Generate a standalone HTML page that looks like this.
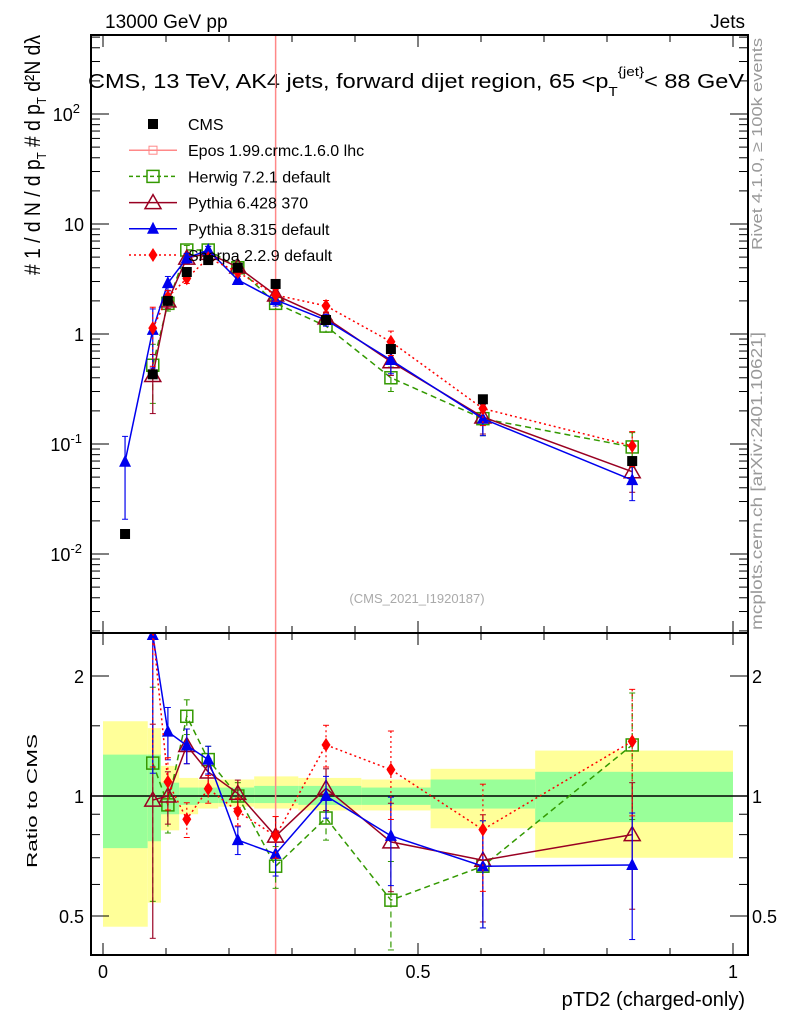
<!DOCTYPE html>
<html><head><meta charset="utf-8"><style>
body{margin:0;background:#fff}
svg{display:block;font-family:"Liberation Sans",sans-serif}
</style></head><body>
<svg id="c" width="786" height="1024" xmlns="http://www.w3.org/2000/svg">
<text x="105" y="28" font-size="19">13000 GeV pp</text>
<text x="745" y="28" font-size="19" text-anchor="end">Jets</text>
<text x="88" y="88" font-size="20" textLength="656" lengthAdjust="spacingAndGlyphs">CMS, 13 TeV, AK4 jets, forward dijet region, 65 &lt;p<tspan font-size="13" dy="8">T</tspan><tspan font-size="13" dy="-20">{jet}</tspan><tspan dy="12">&lt; 88 GeV</tspan></text>
<g transform="translate(40,155) rotate(-90)">
<text x="0" y="0" font-size="22" text-anchor="middle" textLength="240" lengthAdjust="spacingAndGlyphs"># 1 / d N / d p<tspan font-size="13" dy="6">T</tspan><tspan dy="-6"> # d p</tspan><tspan font-size="13" dy="6">T</tspan><tspan dy="-6"> d²N dλ</tspan></text>
</g>
<text transform="translate(762,250) rotate(-90)" font-size="15" fill="#999" textLength="212" lengthAdjust="spacingAndGlyphs">Rivet 4.1.0, ≥ 100k events</text>
<text transform="translate(762,630) rotate(-90)" font-size="16" fill="#999" textLength="298" lengthAdjust="spacingAndGlyphs">mcplots.cern.ch [arXiv:2401.10621]</text>
<text x="417" y="603" font-size="13" fill="#aaa" text-anchor="middle">(CMS_2021_I1920187)</text>
<text transform="translate(37,868) rotate(-90)" font-size="15" textLength="134" lengthAdjust="spacingAndGlyphs">Ratio to CMS</text>
<text x="745" y="1006" font-size="20" text-anchor="end">pTD2 (charged-only)</text>
<g id="g"></g>
</svg>
<script>
const xs=[0.035,0.079,0.103,0.133,0.167,0.214,0.274,0.354,0.457,0.603,0.84];
const edges=[0,0.071,0.092,0.121,0.151,0.183,0.24,0.31,0.41,0.52,0.686,1.0];
const cms=[0.0152,0.43,2.0,3.66,4.7,4.0,2.85,1.34,0.73,0.255,0.07];
const yellowHi=[1.54,1.48,1.19,1.11,1.1,1.1,1.12,1.11,1.1,1.17,1.3];
const yellowLo=[0.47,0.54,0.82,0.9,0.93,0.94,0.93,0.92,0.92,0.83,0.7];
const greenHi=[1.27,1.27,1.08,1.05,1.05,1.05,1.06,1.06,1.05,1.1,1.15];
const greenLo=[0.74,0.77,0.9,0.95,0.96,0.96,0.96,0.95,0.95,0.93,0.86];
const herwig=[null,0.52,1.9,5.8,5.8,4.0,1.9,1.18,0.40,0.17,0.094];
const pythia6=[null,0.42,2.0,4.9,5.4,4.06,2.26,1.4,0.56,0.176,0.056];
const pythia8=[0.069,1.09,2.9,4.9,5.8,3.1,2.04,1.34,0.58,0.17,0.047];
const sherpa=[null,1.13,2.17,3.2,4.9,3.66,2.26,1.8,0.85,0.21,0.096];
const relErr=[0.7,0.55,0.15,0.1,0.08,0.08,0.12,0.12,0.25,0.3,0.35];
const X0=91,X1=748,T=35,MB=633,RB=955;
const X=v=>103+v*630;
const Y=v=>334-110*Math.log10(v);
const R=v=>796-120*Math.log2(v);
const g=document.getElementById('g');
const NS='http://www.w3.org/2000/svg';
function mk(t,a,p){const e=document.createElementNS(NS,t);for(const k in a)e.setAttribute(k,a[k]);(p||g).appendChild(e);return e;}
const defs=mk('defs',{});
const c1=mk('clipPath',{id:'cm'},defs);mk('rect',{x:X0,y:T,width:X1-X0,height:MB-T},c1);
const c2=mk('clipPath',{id:'cr'},defs);mk('rect',{x:X0,y:MB,width:X1-X0,height:RB-MB},c2);
const gm=mk('g',{'clip-path':'url(#cm)'});


const gr=mk('g',{'clip-path':'url(#cr)'});


for(let i=0;i<xs.length;i++){
 const x=X(edges[i]),w=X(edges[i+1])-X(edges[i]);
 const yb=mk('rect',{x:x,y:R(yellowHi[i]),width:w,height:R(yellowLo[i])-R(yellowHi[i]),fill:'#ffff99'},gr);
 
 
 const gb=mk('rect',{x:x,y:R(greenHi[i]),width:w,height:R(greenLo[i])-R(greenHi[i]),fill:'#99ff99'},gr);
 
 
}
mk('line',{x1:X0,x2:X1,y1:R(1),y2:R(1),stroke:'#000','stroke-width':1.5},gr);
for(const [gg,y1,y2] of [[gm,T,MB],[gr,MB,RB]]){
 const l=mk('line',{x1:X(0.274),x2:X(0.274),y1:y1,y2:y2,stroke:'#ff8888','stroke-width':1.5},gg);
 
 
}
function marker(p,x,y,type,col){
 let e;
 if(type==='sq')e=mk('rect',{x:x-5,y:y-5,width:10,height:10,fill:'#000'},p);
 else if(type==='osq')e=mk('rect',{x:x-6,y:y-6,width:12,height:12,fill:'none',stroke:col,'stroke-width':1.5},p);
 else if(type==='otri')e=mk('polygon',{points:`${x},${y-8} ${x-8},${y+6} ${x+8},${y+6}`,fill:'none',stroke:col,'stroke-width':1.5},p);
 else if(type==='tri')e=mk('polygon',{points:`${x},${y-7} ${x-6},${y+5} ${x+6},${y+5}`,fill:col},p);
 else if(type==='dia')e=mk('polygon',{points:`${x},${y-7} ${x-4.5},${y} ${x},${y+7} ${x+4.5},${y}`,fill:col},p);
 return e;
}
const series=[
 {name:'herwig',d:herwig,col:'#339900',dash:'6,4',type:'osq'},
 {name:'pythia6',d:pythia6,col:'#990022',dash:'',type:'otri'},
 {name:'pythia8',d:pythia8,col:'#0000ee',dash:'',type:'tri'},
 {name:'sherpa',d:sherpa,col:'#ff0000',dash:'2,3',type:'dia'}];
for(const s of series){
 for(const [gg,f] of [[gm,(v,i)=>Y(v)],[gr,(v,i)=>R(v/cms[i])]]){
  let pts=[];
  s.d.forEach((v,i)=>{if(v!=null&&!(gg===gr&&i===0))pts.push([X(xs[i]),f(v,i),i,v]);});
  const pl=mk('polyline',{points:pts.map(p=>p[0]+','+p[1]).join(' '),fill:'none',stroke:s.col,'stroke-width':1.5,'stroke-dasharray':s.dash},gg);
  
  
  for(const p of pts){
   const e=relErr[p[2]],v=p[3],i=p[2];
   const hi=gg===gm?Y(v*(1+e)):R(v*(1+e)/cms[i]),lo=gg===gm?Y(Math.max(v*(1-e),1e-4)):R(Math.max(v*(1-e),1e-4)/cms[i]);
   mk('line',{x1:p[0],x2:p[0],y1:hi,y2:lo,stroke:s.col,'stroke-width':1.2,'stroke-dasharray':s.dash},gg);
   mk('line',{x1:p[0]-3,x2:p[0]+3,y1:hi,y2:hi,stroke:s.col},gg);
   mk('line',{x1:p[0]-3,x2:p[0]+3,y1:lo,y2:lo,stroke:s.col},gg);
   const m=marker(gg,p[0],p[1],s.type,s.col);
   
   
  }
 }
}
cms.forEach((v,i)=>{const m=marker(gm,X(xs[i]),Y(v),'sq');
 
 });
for(const [y1,y2] of [[T,MB],[MB,RB]]){
 const f=mk('rect',{x:X0,y:y1,width:X1-X0,height:y2-y1,fill:'none',stroke:'#000','stroke-width':2});
 
 
}
for(let k=0;k<=10;k++){const x=X(k/10),L=k%5==0?12:7;
 for(const [a,b] of [[T,T+L],[MB,MB-L],[MB,MB+L],[RB,RB-L]])mk('line',{x1:x,x2:x,y1:a,y2:b,stroke:'#000','stroke-width':1});}
const xl=['0','0.5','1'];
xl.forEach((t,i)=>{const e=mk('text',{x:X(i*0.5),y:978,'font-size':18,'text-anchor':'middle'});e.textContent=t;
 
 });
for(let d=-3;d<=2;d++)for(let m=1;m<10;m++){const v=m*Math.pow(10,d),y=Y(v);if(y<T||y>MB)continue;const L=m==1?18:9;
 mk('line',{x1:X0,x2:X0+L,y1:y,y2:y,stroke:'#000'});mk('line',{x1:X1,x2:X1-L,y1:y,y2:y,stroke:'#000'});}
const ylab=[[-2,'10','-2'],[-1,'10','-1'],[0,'1',''],[1,'10',''],[2,'10','2']];
for(const [d,b,s] of ylab){const e=mk('text',{x:84,y:Y(Math.pow(10,d))+7,'font-size':18,'text-anchor':'end'});
 e.textContent=b;if(s){const t=mk('tspan',{dy:-8,'font-size':13},e);t.textContent=s;e.setAttribute('x',s.length>1?82:80);}
 
 }
for(const v of [0.5,0.6,0.7,0.8,0.9,1,1.5,2]){const y=R(v);const L=(v==0.5||v==1||v==2)?18:9;
 mk('line',{x1:X0,x2:X0+L,y1:y,y2:y,stroke:'#000'});mk('line',{x1:X1,x2:X1-L,y1:y,y2:y,stroke:'#000'});}
for(const v of [0.5,1,2]){for(const [x,a] of [[84,'end'],[752,'start']]){const e=mk('text',{x:x,y:R(v)+7,'font-size':18,'text-anchor':a});e.textContent=String(v);
 
 }}
const leg=[['CMS','#000','','sq'],['Epos 1.99.crmc.1.6.0 lhc','#ff8888','','epos'],['Herwig 7.2.1 default','#339900','4,3','osq'],['Pythia 6.428 370','#990022','','otri'],['Pythia 8.315 default','#0000ee','','tri'],['Sherpa 2.2.9 default','#ff0000','2,3','dia']];
leg.forEach((l,i)=>{const y=124+i*26.2;const gg=mk('g',{});
 
 
 if(l[3]!=='sq')mk('line',{x1:129,x2:177,y1:y,y2:y,stroke:l[1],'stroke-width':1.5,'stroke-dasharray':l[2]},gg);
 if(l[3]==='epos'){mk('rect',{x:149,y:y-4,width:8,height:8,fill:'none',stroke:l[1]},gg);}
 else marker(gg,153,y,l[3],l[1]);
 const t=mk('text',{x:188,y:y+6,'font-size':16},gg);t.textContent=l[0];});
</script>
</body></html>
